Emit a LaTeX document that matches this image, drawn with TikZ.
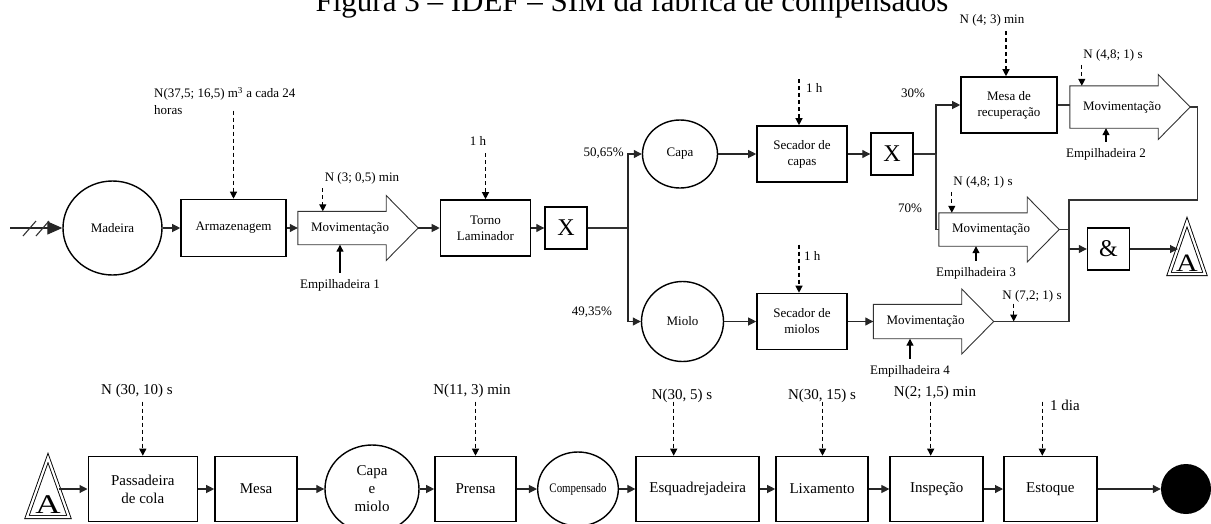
\documentclass[tikz,border=0pt]{standalone}
\usepackage{fontspec}
\setmainfont{Liberation Serif}
\usetikzlibrary{arrows.meta,shapes.geometric}
\newcommand{\topfont}{\fontsize{13}{16}\selectfont}
\newcommand{\botfont}{\fontsize{15}{18}\selectfont}

\begin{document}
\begin{tikzpicture}[
x=1pt, y=-1pt,
proc/.style={rectangle, draw, line width=1.6pt, align=center, inner sep=1pt, font=\topfont},
bproc/.style={proc, minimum height=65pt, font=\botfont},
obj/.style={ellipse, draw, line width=1.4pt, align=center, inner sep=0pt, font=\topfont},
junc/.style={rectangle, draw, line width=1.4pt, minimum width=42pt, minimum height=42pt, inner sep=0pt, font=\fontsize{24}{24}\selectfont},
mov/.style={minimum width=104pt, inner sep=0pt, font=\topfont},
movline/.style={draw=black!80, line width=0.9pt},
lbl/.style={inner sep=1pt, font=\topfont},
blbl/.style={inner sep=1pt, font=\botfont},
flow/.style={draw=black!85, line width=1.1pt, -{Triangle[length=8pt,width=8pt]}},
wire/.style={draw=black!80, line width=1.1pt},
ctrl/.style={draw, line width=1.2pt, dash pattern=on 4pt off 3pt, -{Triangle[length=7pt,width=7pt]}},
sup/.style={draw, line width=1.2pt, -{Triangle[length=7pt,width=7pt]}},
refline/.style={draw, line width=0.9pt, double, double distance=2.2pt}
]
\useasboundingbox (0,0) rectangle (1211,523);
\clip (0,0) rectangle (1211,523);

\node[anchor=base, inner sep=0pt, font=\fontsize{31}{36}\selectfont] (titulo) at (632,11.5) {Figura 3 – IDEF – SIM da fábrica de compensados};

% upper part
\coordinate (entrada) at (10,228);
\node[obj, minimum width=99pt, minimum height=94pt] (madeira) at (112.5,228) {Madeira};
\node[proc, minimum width=105pt, minimum height=57pt] (armazenagem) at (233.5,228) {Armazenagem};
\node[mov, minimum height=33pt] (mov1) at (350,228) {Movimentação};
\node[proc, minimum width=90pt, minimum height=56pt] (torno) at (485.5,228) {Torno\\Laminador};
\node[junc] (xor1) at (566,228) {X};
\coordinate (split1) at (628,228);
\node[obj, minimum width=75pt, minimum height=68pt] (capa) at (680,154) {Capa};
\node[obj, minimum width=82pt, minimum height=80pt] (miolo) at (682.5,321.5) {Miolo};
\node[proc, minimum width=90pt, minimum height=56pt] (secc) at (802,154) {Secador de\\capas};
\node[proc, minimum width=90pt, minimum height=56pt] (secm) at (802,321.5) {Secador de\\miolos};
\node[junc] (xor2) at (892,154) {X};
\coordinate (split2) at (936,154);
\node[proc, minimum width=96pt, minimum height=56pt] (mesa) at (1009,105) {Mesa de\\recuperação};
\node[mov, minimum height=42pt] (mov2) at (1122,107) {Movimentação};
\node[mov, minimum height=33pt] (mov3) at (991,229.5) {Movimentação};
\node[mov, minimum height=34pt] (mov4) at (925.5,321.5) {Movimentação};
\node[junc] (and) at (1108.5,249) {\&};
\coordinate (join1) at (1069,200);
\coordinate (join2) at (1069,321.5);

\foreach \m in {mov1,mov2,mov3,mov4}
  \draw[movline] (\m.north west) -- ([xshift=-16pt]\m.north east) -- ([shift={(-16pt,32.5pt)}]\m.east)
    -- ([xshift=16pt]\m.east) coordinate (\m-tip) -- ([shift={(-16pt,-32.5pt)}]\m.east)
    -- ([xshift=-16pt]\m.south east) -- (\m.south west) -- cycle;

% reference A, upper
\draw[refline] (1187,222) -- (1205,274) -- (1169,274) -- cycle;
\node[inner sep=0pt, font=\fontsize{25}{25}\selectfont] (refA1) at (1187,263) {\scalebox{1.2}[1]{A}};
\coordinate (refA1 in) at (1178,249);

% labels, upper
\node[lbl, anchor=north west, align=left, font=\fontsize{13}{17}\selectfont] (l-arm) at (153,86) {N(37,5; 16,5) m\textsuperscript{3} a cada 24\\horas};
\node[lbl] (l-mov1) at (362,178) {N (3; 0,5) min};
\node[lbl] (emp1) at (340,285) {Empilhadeira 1};
\node[lbl] (l-torno) at (478,141) {1 h};
\node[lbl, anchor=west] (l-secc) at (805,88) {1 h};
\node[lbl, anchor=west] (l-secm) at (803,256) {1 h};
\node[lbl] (l-mesa) at (992,20) {N (4; 3) min};
\node[lbl] (l-mov2) at (1113,55) {N (4,8; 1) s};
\node[lbl] (emp2) at (1106,154) {Empilhadeira 2};
\node[lbl] (l-mov3) at (983,182) {N (4,8; 1) s};
\node[lbl] (emp3) at (976,273) {Empilhadeira 3};
\node[lbl] (l-mov4) at (1032,296) {N (7,2; 1) s};
\node[lbl] (emp4) at (910,371) {Empilhadeira 4};
\node[lbl, anchor=east] (p-capa) at (625,153) {50,65\%};
\node[lbl] (p-miolo) at (592,312) {49,35\%};
\node[lbl] (p-mesa) at (913,93) {30\%};
\node[lbl] (p-mov3) at (910,208) {70\%};

% connectors, upper
\draw[flow, -{Triangle[length=15pt,width=13pt]}] (entrada) -- (madeira.west);
\draw[wire] (23,236) -- (36,221) (36,236) -- (49,221);
\draw[flow] (madeira) -- (armazenagem);
\draw[flow] (armazenagem) -- (mov1.west);
\draw[flow] (mov1-tip) -- (torno.west);
\draw[flow] (torno) -- (xor1);
\draw[wire] (xor1.east) -- (split1);
\draw[flow] (split1) |- (capa.west);
\draw[flow] (split1) |- (miolo.west);
\draw[flow] (capa) -- (secc);
\draw[flow] (miolo) -- (secm);
\draw[flow] (secm.east) -- (mov4.west);
\draw[flow] (secc) -- (xor2);
\draw[wire] (xor2.east) -- (split2);
\draw[flow] (split2) |- (mesa.west);
\draw[wire] (split2) |- (mov3.west);
\draw[wire] (mesa.east) -- (mesa.east -| mov2.west);
\draw[wire] (mov2-tip) -- ++(7,0) |- (join1) -- (join2);
\draw[wire] (mov3-tip) -- (mov3-tip -| join1);
\draw[wire] (mov4-tip) -- (join2);
\draw[flow] (and.west -| join1) -- (and.west);
\draw[flow] (and.east) -- (refA1 in);

\draw[ctrl] ([yshift=88pt]armazenagem.north) -- (armazenagem.north);
\draw[ctrl] ([shift={(25pt,23pt)}]mov1.north west) -- ([xshift=25pt]mov1.north west);
\draw[ctrl] ([yshift=46pt]torno.north) -- (torno.north);
\draw[ctrl] ([shift={(-3pt,46pt)}]secc.north) -- ([xshift=-3pt]secc.north);
\draw[ctrl] ([shift={(-3pt,48pt)}]secm.north) -- ([xshift=-3pt]secm.north);
\draw[ctrl] ([shift={(-3pt,45pt)}]mesa.north) -- ([xshift=-3pt]mesa.north);
\draw[ctrl] ([shift={(12pt,21pt)}]mov2.north west) -- ([xshift=12pt]mov2.north west);
\draw[ctrl] ([shift={(13pt,21pt)}]mov3.north west) -- ([xshift=13pt]mov3.north west);
\draw[ctrl] ([shift={(20pt,18pt)}]mov4-tip) -- ([xshift=20pt]mov4-tip);

\draw[sup] ([yshift=5pt]emp1.north) -- (emp1.north |- mov1.south);
\draw[sup] ([yshift=5pt]emp2.north) -- (emp2.north |- mov2.south);
\draw[sup] ([yshift=5pt]emp3.north) -- (emp3.north |- mov3.south);
\draw[sup] ([yshift=5pt]emp4.north) -- (emp4.north |- mov4.south);

% lower part
\draw[refline] (48,458) -- (69,517) -- (27,517) -- cycle;
\node[inner sep=0pt, font=\fontsize{27}{27}\selectfont] (refA2) at (48,505) {\scalebox{1.3}[1]{A}};
\coordinate (refA2 out) at (59,489);
\node[bproc, minimum width=109pt] (passadeira) at (142.8,489) {Passadeira\\de cola};
\node[bproc, minimum width=82pt] (mesa2) at (256,489) {Mesa};
\node[obj, font=\botfont, minimum width=94pt, minimum height=88pt] (capamiolo) at (372,489) {Capa\\e\\miolo};
\node[bproc, minimum width=81pt] (prensa) at (475.5,489) {Prensa};
\node[obj, font=\fontsize{13}{15}\selectfont, minimum size=74pt] (compensado) at (578,489) {\scalebox{0.84}[1]{Compensado}};
\node[bproc, minimum width=123pt] (esquadrejadeira) at (697.7,489) {Esquadrejadeira};
\node[bproc, minimum width=92pt] (lixamento) at (822,489) {Lixamento};
\node[bproc, minimum width=93pt] (inspecao) at (936.7,489) {Inspeção};
\node[bproc, minimum width=93pt] (estoque) at (1050.3,489) {Estoque};
\node[circle, fill=black, minimum size=50pt, inner sep=0pt] (fim) at (1186,489) {};

\node[blbl] (l-passadeira) at (137,391) {N (30, 10) s};
\node[blbl] (l-prensa) at (472,391) {N(11, 3) min};
\node[blbl] (l-esquadrejadeira) at (682,396) {N(30, 5) s};
\node[blbl] (l-lixamento) at (822,396) {N(30, 15) s};
\node[blbl] (l-inspecao) at (935,393) {N(2; 1,5) min};
\node[blbl, anchor=west] (l-estoque) at (1049,405) {1 dia};

\draw[flow] (refA2 out) -- (passadeira.west);
\draw[flow] (passadeira) -- (mesa2);
\draw[flow] (mesa2) -- (capamiolo);
\draw[flow] (capamiolo) -- (prensa);
\draw[flow] (prensa) -- (compensado);
\draw[flow] (compensado) -- (esquadrejadeira);
\draw[flow] (esquadrejadeira) -- (lixamento);
\draw[flow] (lixamento) -- (inspecao);
\draw[flow] (inspecao) -- (estoque);
\draw[flow] (estoque) -- (fim);

\draw[ctrl] ([yshift=54pt]passadeira.north) -- (passadeira.north);
\draw[ctrl] ([yshift=54pt]prensa.north) -- (prensa.north);
\draw[ctrl] ([shift={(-24pt,54pt)}]esquadrejadeira.north) -- ([xshift=-24pt]esquadrejadeira.north);
\draw[ctrl] ([shift={(0.5pt,54pt)}]lixamento.north) -- ([xshift=0.5pt]lixamento.north);
\draw[ctrl] ([shift={(-6pt,54pt)}]inspecao.north) -- ([xshift=-6pt]inspecao.north);
\draw[ctrl] ([shift={(-8pt,54pt)}]estoque.north) -- ([xshift=-8pt]estoque.north);
\end{tikzpicture}
\end{document}
